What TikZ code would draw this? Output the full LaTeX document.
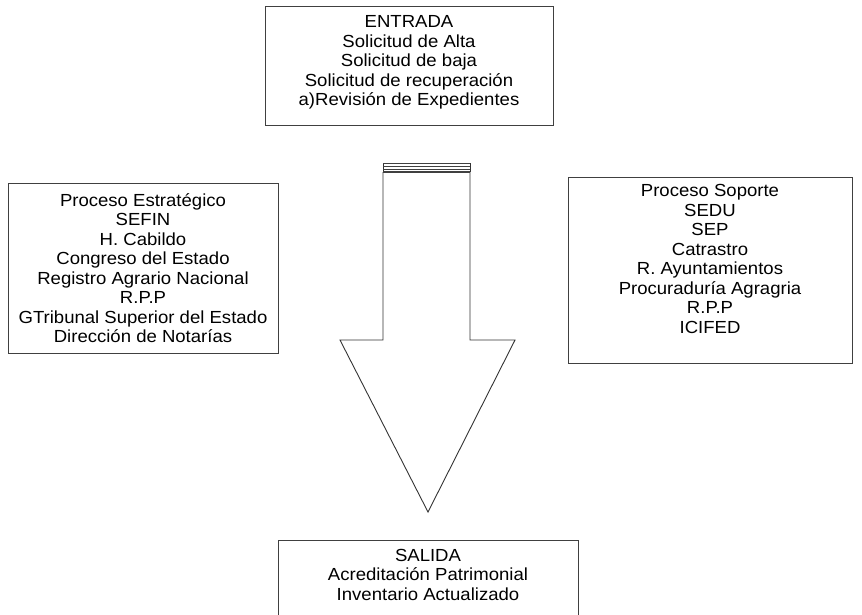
\documentclass[tikz,border=0pt]{standalone}
\usepackage{fontspec}
\setmainfont{Liberation Sans}[FakeStretch=1.06]
\usepackage{tikz}
\tikzset{
  caja/.style = {rectangle, draw=black!75, thin, align=center, inner sep=0pt,
    font=\fontsize{17.5}{19.5}\selectfont},% caja de texto
  flecha/.style = {draw=black!80, line width=0.9pt, line join=miter},% flecha grande
}
\begin{document}
\begin{tikzpicture}[x=1pt,y=-1pt]
  \useasboundingbox (0,0) rectangle (862,614);
  \clip (0,0) rectangle (862,614);
%
  \node[caja, minimum width=288, minimum height=119] (entrada) at (409,65.5)
    {ENTRADA\\Solicitud de Alta\\Solicitud de baja\\Solicitud de recuperaci\'on\\a)Revisi\'on de Expedientes\rule[-10pt]{0pt}{0pt}};
  \node[caja, minimum width=270, minimum height=170] (estrategico) at (143,268)
    {Proceso Estrat\'egico\\SEFIN\\H. Cabildo\\Congreso del Estado\\Registro Agrario Nacional\\R.P.P\\GTribunal Superior del Estado\\Direcci\'on de Notar\'ias};
  \node[caja, minimum width=284, minimum height=186] (soporte) at (710,270)
    {Proceso Soporte\\SEDU\\SEP\\Catrastro\\R. Ayuntamientos\\Procuradur\'ia Agragria\\R.P.P\\ICIFED\rule[-22pt]{0pt}{0pt}};
  \node[caja, minimum width=300, minimum height=100, anchor=north] (salida) at (428,540)
    {SALIDA\\Acreditaci\'on Patrimonial\\Inventario Actualizado\\[12pt]};
%   flecha
  \coordinate (ftl) at (383,163);
  \coordinate (ftr) at (470,163);
  \coordinate (fpunta) at (428,512);
  \draw[flecha] (383,172) -- (383,340) -- (340,340) -- (fpunta) -- (515,340) -- (470,340) -- (470,172);
  \draw[flecha] (ftl) -- (383,172);
  \draw[flecha] (ftr) -- (470,172);
  \foreach \y in {163,166,169}
    \draw[black!75, line width=0.7pt] (383,\y) -- (470,\y);
  \draw[black!75, line width=1.6pt] (383,172) -- (470,172);
\end{tikzpicture}
\end{document}
